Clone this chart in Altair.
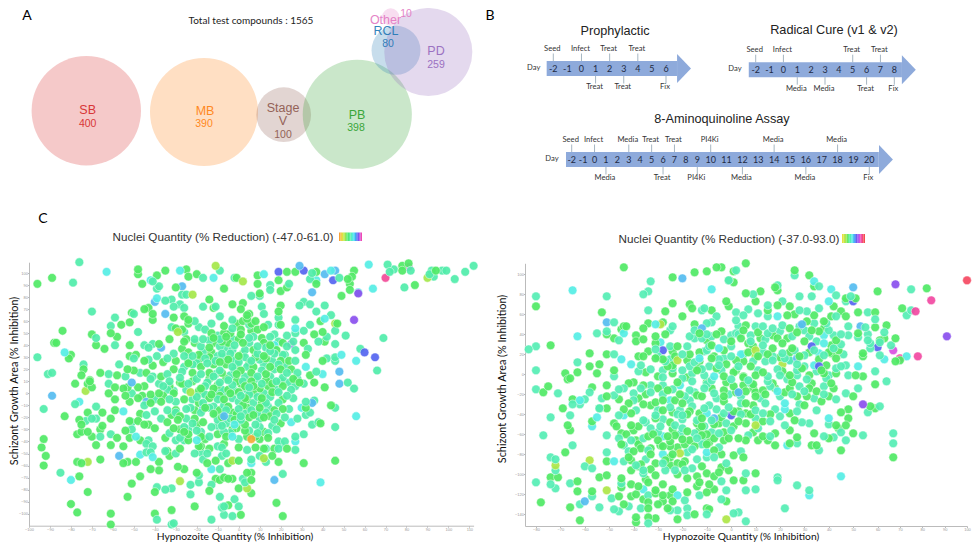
import altair as alt
import pandas as pd

# ---------- Panel A: compound counts ----------
venn_names = ["SB", "MB", "Stage V", "PB", "Other", "RCL", "PD"]
venn_counts = [400, 390, 100, 398, 10, 80, 259]
venn_colors = ["#d62728", "#ff7f0e", "#8c564b", "#2ca02c", "#e377c2", "#1f77b4", "#9467bd"]
venn_x = [86.3, 204, 283.7, 357.3, 390.7, 396, 428.3]
venn_y = [110.7, 112, 114.7, 114.3, 17, 50.3, 52]

venn_text = ["SB", "400", "MB", "390", "Stage", "V", "100", "PB", "398", "Other", "10", "RCL", "80", "PD", "259"]
venn_text_group = ["SB", "SB", "MB", "MB", "Stage V", "Stage V", "Stage V", "PB", "PB", "Other", "Other", "RCL", "RCL", "PD", "PD"]
venn_text_big = [1, 0, 1, 0, 1, 1, 0, 1, 0, 1, 0, 1, 0, 1, 0]
venn_text_x = [87.7, 87.7, 205, 204, 283, 283, 283, 357, 356, 385.5, 406, 386, 388, 436, 436]
venn_text_y = [110, 124, 111, 124, 107.5, 121, 134.5, 115, 127.5, 19.5, 14, 31, 43.5, 51, 64.5]

# ---------- Panel B: assay schedules ----------
proph_days = [-2, -1, 0, 1, 2, 3, 4, 5, 6]
proph_up = [(-2, "Seed"), (0, "Infect"), (2, "Treat"), (4, "Treat")]
proph_down = [(1, "Treat"), (3, "Treat"), (6, "Fix")]
cure_days = [-2, -1, 0, 1, 2, 3, 4, 5, 6, 7, 8]
cure_up = [(-2, "Seed"), (0, "Infect"), (5, "Treat"), (7, "Treat")]
cure_down = [(1, "Media"), (3, "Media"), (6, "Treat"), (8, "Fix")]
aq_days = list(range(-2, 21))
aq_up = [(-2, "Seed"), (0, "Infect"), (3, "Media"), (5, "Treat"), (7, "Treat"), (10, "PI4Ki"), (14, "Media"), (18, "Media")]
aq_down = [(1, "Media"), (6, "Treat"), (9, "PI4Ki"), (12, "Media"), (16, "Media"), (20, "Fix")]

# ---------- Panel C: left scatter (x, y) by nuclei reduction band ----------
L_orange = [(6,-38)]
L_lime = [(-11,106),(2,93),(-22,82),(-29,51),(46,58),(90,96),(-23,1),(-73,2),(-72,-57),(-28,-73),(12,-54),(-3,-56),(4,-79)]
L_pink = [(70,96)]
L_magenta = [(81,105)]
L_purple = [(57,83),(55,61),(25,41)]
L_blue = [(19,101),(31,102),(45,94),(60,34),(65,30)]
L_sky = [(29,106),(41,99),(46,102),(-27,89),(-40,76),(-37,38),(-35,66),(35,84),(48,18),(-89,-2),(-44,-7),(-57,-52),(-7,-19),(-17,-13),(35,-8),(48,8),(17,-72),(-51,9)]
L_aqua = [(-63,101),(-28,102),(-12,96),(-42,94),(12,99),(37,94),(44,102),(57,84),(64,87),(62,107),(-39,79),(-83,34),
 (41,62),(27,54),(17,40),(49,32),(56,27),(40,16),(32,22),(-76,-7),(-55,-15),(-49,-36),(-47,-51),(-41,-53),(-80,-72),(-13,-63),(39,-74),(56,-19),(-20,-39),(27,-40),(30,-12),(25,-24),(-3,-36),(-2,-26),(6,-58)]
L_green = [(-96,91),(-89,96),(-48,103),(-48,99),(-35,102),(-25,103),(-20,99),(-24,97),(-39,98),(-46,91),(-30,88),(-7,87),(-1,96),(9,98),(9,91),
 (23,101),(27,101),(19,94),(10,83),(20,85),(23,88),(37,101),(37,91),(54,97),(55,102),(52,95),(53,91),(53,86),(49,81),(78,106),(78,102),(81,108),(84,90),(94,102),
 (-84,52),(-88,42),(-87,42),(-80,32),(-81,29),(-74,20),(-75,15),(-71,11),(-70,49),(-68,40),(-64,37),(-61,50),(-58,47),(-56,57),(-52,59),(-51,67),(-52,40),(-52,31),(-49,32),
 (-45,70),(-43,71),(-41,66),(-41,61),(-38,41),(-31,63),(-26,64),(-24,61),(-27,53),(-24,58),(-30,54),(-33,45),(-25,45),(-26,43),(-13,50),(-13,46),(-7,56),(-7,50),(-14,78),(-12,71),
 (-3,74),(2,75),(1,70),(4,65),(5,66),(-1,58),(2,60),(4,62),(8,60),(6,58),(20,73),(19,68),(12,55),(20,57),(39,60),(36,49),(40,51),(47,58),(41,43),(32,32),(31,42),(34,15),(40,27),
 (-78,8),(-72,8),(-71,10),(-70,5),(-59,5),(-62,0),(-59,-5),(-54,-2),(-53,5),(-55,4),(-48,5),(-45,6),(-48,-4),(-42,-1),(-52,-7),(-72,-16),(-83,-19),(-65,-16),(-76,-22),(-75,-26),(-61,-21),(-59,-14),
 (-77,-34),(-75,-32),(-72,-32),(-70,-36),(-66,-30),(-65,-27),(-58,-37),(-54,-31),(-52,-37),(-52,-23),(-93,-38),(-94,-45),(-92,-52),(-93,-60),(-68,-43),(-61,-43),(-55,-44),(-47,-39),
 (-66,-55),(-77,-57),(-75,-58),(-55,-58),(-53,-57),(-49,-57),(-34,-48),(-33,-52),(-28,-46),(-76,-69),(-51,-75),(-47,-69),(-42,-63),(-38,-57),(-38,-64),(-29,-61),(-26,-63),(-20,-66),(-11,-71),(-9,-72),(-3,-71),(-7,-70),(-5,-71),
 (4,-66),(6,-66),(6,-72),(-72,-82),(-53,-86),(-40,-82),(-14,-81),(0,-79),(6,-83),(-80,-92),(-77,-99),(-61,-100),(-61,-109),(-40,-100),(-32,-97),(-21,-94),(-5,-93),(1,-101),(18,-91),(21,-102),
 (46,-56),(31,-58),(41,5),(44,-10),(39,-25),(36,9),(32,-12),(20,-25),(23,-46),(17,-46),(12,-46),(8,-45),(16,-52),(19,-57),(10,-38),(3,-31),(-3,-30),(-7,-42),(-14,-46),(-18,-44),(-19,-44),(-15,-58),(-11,-56),(-5,-58),(0,-56),(0,-45),
 (-17,-24),(-21,-21),(-20,-26),(-26,-32),(-18,-36),(-24,-34),(-31,-29),(-35,-37),(-24,-39),(-40,-29),(-43,-26),(-45,-26),(-48,-23),(-34,-24),(-47,-17),(-37,-7),(-30,-14),(-28,-19),(-29,-22),
 (-28,9),(-19,2),(-12,4),(-5,3),(1,8),(7,6),(14,6),(21,6),(29,9),(21,-5),(10,-12),(4,-5),(-7,-5),(-14,-4),(-19,-8),(-26,-5),(-31,0),(-38,0),(-9,-14),(-3,-16),(5,-20),(12,-20),(17,-14),(4,-12),(3,-26),(12,-32),(-1,-29),
 (-45,27),(-41,23),(-36,26),(-30,27),(-27,37),(-24,34),(-19,32),(-13,34),(-14,38),(-21,42),(-5,42),(0,31),(2,42),(7,36),(13,29),(18,36),(24,27),(7,22),(1,19),(-6,24),(-12,24),(-18,22),(-22,17),(-31,20),(-37,14),(-44,17),(-50,19),(-58,15),(-66,17),(-53,20),(-14,17),(-8,17),(-1,16),(6,17),(13,16),(20,20),(25,20),(1,49),(12,42),(21,42),(9,53),(1,53),(-6,47),(-12,42),
 (-22,10),(-18,4),(-14,12),(-10,7),(-6,12),(-1,10),(3,6),(6,10),(10,4),(13,11),(16,8),(20,10),(26,12),(-27,8),(-33,6),(-21,-14),(-16,-12),(-12,-17),(-8,-20),(-5,-11),(-1,-17),(2,-10),(7,-18),(11,-8),(15,-19),(21,-13),(-18,0),(-13,-1),(-9,-2),(-4,0),(0,1),(3,-4),(7,0),(11,-4),(16,1),(-24,25),(-19,28),(-14,30),(-9,26),(-5,28),(-1,24),(2,33),(5,25),(8,30),(12,31),(15,22),(20,27),(-12,46),(-8,43),(-4,50),(0,45),(6,52),(11,46),(15,40),(-16,-38),(-10,-34),(-6,-36),(-2,-22),(4,-36),(8,-36),(14,-37),(-28,-30),(-32,-18),(-42,-8),(-36,-2),(-46,-2)]
L_mint = [(-79,92),(-76,109),(-41,93),(-38,89),(-39,87),(-9,102),(-17,96),(-2,96),(15,90),(15,86),(24,91),(34,95),(35,100),(48,96),(71,107),(72,101),(74,103),(82,102),(79,88),(92,102),(91,99),(93,97),(97,102),(99,102),(103,95),(108,101),(112,106),
 (-70,68),(-96,30),(-74,24),(-91,16),(-89,17),(-68,46),(-59,40),(-61,56),(-59,63),(-50,66),(-48,51),(-50,29),(-45,40),(-43,38),(-41,41),(-35,77),(-32,78),(-27,82),(-25,82),(-31,72),(-28,74),(-26,71),(-21,60),(-17,72),(-11,72),(-9,64),(-13,58),(-19,55),(-16,53),(-32,55),(-26,51),(-21,45),(-17,45),
 (-3,61),(6,81),(10,81),(11,72),(12,66),(19,63),(14,57),(19,57),(29,73),(31,76),(34,74),(41,73),(37,68),(44,65),(34,57),(27,61),(31,52),(42,47),(46,52),(51,48),(69,46),(58,37),(66,19),(46,41),(46,30),(46,27),(42,29),(38,43),(33,37),(27,50),(23,48),(17,49),(27,36),(26,43),(22,32),(27,27),(28,17),(37,18),
 (-93,-13),(-78,-9),(-62,8),(-51,0),(-68,-11),(-73,-23),(-68,-21),(-70,-21),(-66,-36),(-61,-34),(-51,-30),(-51,-24),(-43,-39),(-44,-42),(-41,-44),(-44,-49),(-42,-49),(-35,-48),(-85,-66),(-39,-78),(-35,-80),(-32,-79),(-23,-84),(-9,-86),(-2,-88),(-23,-76),(-19,-74),(-19,-68),(-9,-63),(-13,-76),(2,-71),(3,-74),(21,-67),
 (-39,-105),(-32,-109),(-31,-108),(-13,-105),(-8,-95),(-7,-94),(0,-94),(-7,-101),(-3,-102),(52,9),(55,4),(46,-12),(46,-28),(38,-24),(36,-6),(31,8),(32,-7),(34,-16),(32,-18),(28,-21),(35,-26),(22,-20),(17,-22),(16,-27),(27,-36),(31,-34),(22,-40),(19,-40),(20,-42),(27,-47),(19,-46),(13,-46),(13,-57),(6,-55),(4,-47),
 (0,-38),(-7,-32),(-10,-27),(-13,-28),(-25,-21),(-22,-25),(-24,-30),(-20,-31),(-30,-39),(-28,-37),(-26,-39),(-21,-50),(-18,-49),(-17,-55),(-6,-50),(-8,-45),(-10,-44),(-37,-21),(-40,-15),(-33,-5),(-25,-13),
 (-31,2),(-25,3),(-15,9),(-9,9),(-3,7),(4,3),(12,0),(18,3),(24,9),(27,6),(23,-2),(13,-8),(19,-8),(7,-8),(0,-7),(-3,-4),(-10,-5),(-17,-8),(-22,-5),(-30,-7),(-34,3),(-12,-11),(-6,-14),(1,-19),(9,-16),(13,-16),(-10,-22),(8,-26),(9,-33),(-6,-25),(1,-22),
 (-43,28),(-39,31),(-34,29),(-31,33),(-26,31),(-22,31),(-17,34),(-10,31),(-18,39),(-9,39),(-3,36),(-3,28),(5,46),(10,28),(15,35),(21,32),(11,19),(4,22),(-3,22),(-9,19),(-15,25),(-22,24),(-27,18),(-34,16),(-41,14),(-47,17),(-54,14),(-62,16),(-57,24),(-18,16),(-11,16),(-4,15),(3,14),(9,14),(17,20),(23,17),(-3,45),(7,47),(15,47),(19,43),(23,39),(5,42),(5,57),(-3,54),(-9,45),
 (-24,8),(-20,12),(-16,6),(-12,14),(-8,3),(-5,11),(-2,19),(2,10),(5,5),(8,12),(11,8),(15,14),(18,10),(21,13),(25,3),(28,12),(-28,13),(-33,10),(-38,8),(-23,-12),(-18,-16),(-14,-12),(-11,-18),(-7,-10),(-4,-21),(0,-13),(3,-17),(6,-14),(10,-21),(14,-11),(18,-17),(24,-13),(-20,-3),(-16,-1),(-11,1),(-7,1),(-2,2),(1,-2),(5,-1),(9,-3),(15,-3),(19,1),(26,-4),(-26,22),(-24,27),(-20,25),(-16,29),(-11,27),(-7,30),(-4,33),(0,26),(3,30),(6,27),(9,33),(12,24),(16,27),(19,24),(22,23),(-14,44),(-10,48),(-6,38),(-2,40),(3,36),(9,39),(13,38),(17,33),(-8,33),(-18,-32),(-14,-36),(-8,-27),(-4,-33),(0,-24),(5,-31),(10,-28),(14,-33),(18,-30),(-30,-16),(-26,-28),(-33,-33),(-30,-50),(-15,-50),(-8,-52),(10,-52),(-44,-18),(-40,-5),(-45,-10),(-34,-14),(-36,6),(-42,12)]

# ---------- Panel C: right scatter (x, y) by nuclei reduction band ----------
R_red = [(100,94)]
R_pink = [(78,18),(77,63),(84,74),(70,16)]
R_magenta = [(67,24)]
R_purple = [(68,90),(91,38),(54,-30)]
R_blue = [(-28,24),(50,73),(60,27),(36,8),(33,28),(0,-41)]
R_sky = [(-20,96),(50,87),(-51,52),(-12,46),(53,48),(24,14),(27,16),(29,50),(3,-18),(-60,-127),(-7,-44)]
R_lime = [(-29,50),(-22,14),(10,18),(10,24),(21,10),(-58,-86),(-72,-91),(-21,-79),(-51,-116),(-2,-145),(10,-51)]
R_aqua = [(-65,84),(-8,85),(34,93),(41,85),(40,73),(-63,38),(-31,50),(-44,41),(-41,10),(-45,15),(-13,16),(-5,26),(4,20),(-29,32),(-7,-2),(34,9),(36,21),(38,31),(38,39),(52,8),(63,15),(73,18),(19,58),
 (-62,-26),(-55,-43),(-57,-52),(-44,-41),(-25,-26),(-10,-39),(-28,-62),(23,-71),(40,-44),(22,-29),(22,-35),(19,-17),(-21,-11),(-48,-87),(-28,-80),(-10,-78),(-36,-115),(-22,-121),(32,-121),(45,-102)]
R_green = [(-44,107),(-24,97),(-15,102),(-10,103),(-6,107),(-4,107),(1,103),(6,111),(-1,94),(1,92),(-80,68),(-53,62),(-51,40),(-48,36),(-45,45),(-44,48),(-43,48),(-36,46),(-34,51),(-28,52),(-27,63),(-24,71),(-20,58),(-17,70),(-16,66),(-8,64),(-15,50),
 (-2,73),(-1,68),(6,81),(12,83),(10,73),(18,87),(19,84),(26,104),(32,99),(34,88),(47,76),(51,76),(60,83),(82,86),(71,66),(68,13),(70,14),(52,62),(59,62),(59,47),(64,49),(63,36),(68,36),(61,34),(54,21),(54,18),(52,41),(45,63),(42,68),(41,58),(47,58),
 (-58,21),(-58,8),(-54,10),(-51,20),(-63,2),(-55,1),(-74,29),(-68,1),(-66,-4),(-48,4),(-39,39),(-36,35),(-39,33),(-31,38),(-27,40),(-31,31),(-34,23),(-36,18),(-31,16),(-38,18),(-24,9),(-24,23),(-22,28),(-17,20),(-13,13),(-10,34),(-8,29),(-4,43),(4,36),(7,31),(-7,18),(-2,10),(-13,6),(-24,1),(-3,-2),(2,4),(5,13),(8,8),(39,9),(51,-1),(54,-2),(43,1),(38,1),(32,-1),(24,-1),(10,-1),(5,-2),
 (9,28),(17,26),(41,21),(43,16),(41,29),(30,33),(25,26),(21,31),(19,36),(12,36),(6,49),(24,46),(31,53),(38,53),(36,43),(23,59),(26,60),(15,64),(19,69),(24,68),(34,59),
 (-77,-18),(-75,-12),(-67,-5),(-69,-34),(-65,-25),(-57,-13),(-51,-11),(-54,-34),(-51,-34),(-51,-22),(-42,-9),(-40,-8),(-57,-47),(-66,-56),(-67,-51),(-48,-49),(-41,-39),(-41,-51),(-38,-52),(-33,-31),(-31,-44),(-31,-28),(-28,-26),(-23,-26),(-20,-29),(-17,-37),(-13,-39),(-5,-49),(-14,-49),(-18,-57),(-25,-48),(-26,-62),(-39,-66),(-45,-59),
 (-33,-74),(-29,-71),(-25,-72),(-25,-67),(-20,-65),(-17,-66),(-9,-68),(-3,-66),(3,-64),(6,-66),(11,-66),(13,-47),(6,-49),(3,-47),(15,-66),(18,-59),(18,-71),(24,-56),(24,-69),(27,-63),(34,-59),(33,-71),(35,-71),(40,-64),(50,-59),(45,-76),(67,-83),(57,-32),(59,-34),(59,-10),(50,-22),(48,-35),(48,-44),(45,-38),(43,-51),(47,-51),(44,-54),(26,-46),(24,-39),(37,-27),(30,-31),(9,-31),(6,-29),(10,-22),(6,-39),(3,-37),(-3,-27),(-14,-21),(-3,-16),(1,-12),(5,-11),(9,-14),(13,-16),(24,-14),(32,-14),(42,-14),(-36,-11),(-38,-24),(-42,-29),
 (-68,-78),(-51,-87),(-41,-86),(-41,-96),(-31,-89),(-31,-101),(-25,-83),(-25,-91),(-22,-89),(-19,-87),(-12,-92),(-7,-76),(-4,-80),(-4,-93),(1,-81),(5,-83),(10,-99),(-14,-102),(-10,-99),(-7,-102),(1,-106),(5,-106),(-74,-103),(-71,-103),(-63,-107),(-63,-117),(-57,-117),(-54,-103),(-51,-101),(-45,-104),(-45,-113),(-38,-112),(-34,-108),(-31,-116),(-31,-119),(-28,-121),(-25,-121),(-24,-127),(-28,-127),(-10,-118),(-7,-115),(-2,-127),(-78,-128),(-66,-133),(-46,-122),(-41,-122),(-44,-130),(-34,-128),(-34,-134),(-15,-140),(-10,-134),(-9,-135),(-62,-146),(-39,-143),(-39,-148),(-34,-143),(-31,-144),(-22,-145),(-40,-56),(-23,-61),(-12,-61),(-1,-64),(-37,-74),(-40,-77),
 (-35,2),(-30,-2),(-26,8),(-22,-8),(-18,-3),(-14,4),(-10,-8),(-6,6),(-2,-8),(1,2),(5,-3),(9,-10),(13,2),(17,-9),(21,3),(25,-8),(29,6),(33,-9),(37,4),(41,-9),(-28,15),(-23,18),(-18,14),(-13,22),(-8,16),(-3,24),(2,14),(7,22),(11,18),(15,20),(20,17),(24,22),(28,18),(32,22),(36,15),(40,22),(44,24),(-13,41),(-6,40),(0,33),(5,44),(11,42),(17,39),(23,36),(27,42),(33,44),(38,46),(43,34),(-35,-20),(-30,-14),(-26,-16),(-21,-20),(-12,-22),(-8,-14),(-3,-22),(2,-18),(6,-17),(10,-18),(14,-20),(18,-14),(22,-18),(27,-22),(31,-22),(35,-17),(40,-22),(-28,-36),(-24,-38),(-18,-40),(-12,-44),(-4,-43),(1,-37),(8,-40),(16,-40),(-32,-60),(-24,-55),(-19,-70),(-15,-72),(-10,-60),(-7,-50),(-33,-80),(-37,-90),(-20,-90),
 (-43,-60),(-30,-66),(-28,-72),(-22,-73),(-24,-80),(-13,-56),(-10,-70),(-7,-64),(-3,-58),(1,-52),(-45,-70),(-42,-83),(-38,-92),(-33,-95),(-27,-86),(-22,-100),(-18,-104),(-13,-108),(-9,-110),(-5,-98),(-1,-96),(-35,-105),(-28,-110),(-24,-115),(-18,-118),(-14,-112),(-41,-110),(-39,-120),(-36,-125),(-30,-130),(-26,-134),(-38,-70),(-34,-62),(-12,-52),(9,-58),(13,-62),(-47,-52),(-44,-35),(-36,-30),(-46,-25)]
R_mint = [(-33,93),(-34,83),(-36,80),(-80,78),(-51,78),(-48,52),(-55,41),(-51,43),(-46,34),(-34,64),(-12,64),(-11,66),(-6,58),(-8,52),(-10,51),(-25,44),(-24,48),(2,62),(9,80),(7,65),(19,89),(26,99),(36,88),(43,79),(28,78),(33,78),(47,73),(49,78),(2,104),(-1,94),(75,85),(73,59),(75,64),
 (56,62),(59,55),(55,47),(63,42),(61,32),(66,29),(61,19),(59,3),(57,26),(57,31),(56,40),(56,34),(52,37),(48,39),(48,48),(45,30),(43,58),(39,51),
 (-37,9),(-48,20),(-63,12),(-48,-2),(-80,4),(-83,25),(-80,28),(-31,25),(-27,13),(-28,4),(-25,28),(-18,28),(-17,38),(-15,36),(-12,36),(-10,40),(0,39),(2,41),(0,18),(-3,16),(-9,28),(-11,23),(-5,9),(-9,8),(-17,8),(-20,4),(-16,1),(-11,-1),(14,13),(17,14),(24,14),(27,4),(30,8),(45,8),(47,9),(48,-1),(40,-1),(27,-1),(20,-1),(15,-2),
 (13,29),(21,21),(32,38),(15,41),(8,39),(10,48),(3,48),(13,48),(17,46),(21,49),(28,48),(34,51),(42,39),(21,73),(28,64),(31,63),(36,66),(15,58),(11,61),(5,59),(2,54),(15,69),
 (-80,-15),(-71,-19),(-65,-30),(-62,-30),(-60,-25),(-58,-18),(-54,-34),(-53,-24),(-48,-21),(-46,-15),(-44,-14),(-66,-41),(-74,-43),(-77,-61),(-65,-71),(-46,-41),(-36,-46),(-31,-41),(-20,-41),(-20,-45),(-2,-49),(-8,-58),(-11,-52),(-20,-54),(-23,-51),(-33,-54),(-36,-64),(-41,-66),(-46,-64),(-44,-71),(-51,-61),(-14,-64),(-11,-67),(0,-56),(7,-61),(11,-54),(16,-47),(16,-62),(22,-51),(27,-69),(36,-76),(38,-62),(42,-63),(45,-58),(47,-66),(54,-61),
 (67,-59),(67,-69),(61,-32),(56,-38),(64,-7),(40,-50),(29,-48),(32,-49),(27,-37),(35,-36),(18,-35),(14,-29),(4,-29),(10,-36),(13,-39),(-3,-39),(-9,-31),(-7,-19),(-11,-14),(-17,-16),(-17,-26),(28,-12),(38,-12),(47,-19),(52,-14),(-28,-11),(-33,-11),(-37,-14),(-40,-19),(-39,-36),(-40,-26),
 (-74,-83),(-72,-85),(-60,-92),(-57,-94),(-72,-96),(-51,-78),(-44,-87),(-39,-91),(-36,-96),(-36,-99),(-34,-76),(-28,-89),(-16,-94),(-10,-83),(-7,-83),(-2,-89),(4,-77),(6,-99),(-27,-96),(-23,-96),(-19,-96),(-4,-107),(6,-116),(10,-115),(19,-103),(19,-106),(27,-111),(32,-116),(22,-134),
 (-80,-108),(-74,-110),(-72,-114),(-66,-109),(-57,-122),(-45,-109),(-34,-121),(-13,-121),(-4,-125),(-2,-116),(-19,-126),(-62,-130),(-54,-133),(-49,-124),(-42,-132),(-48,-135),(-46,-137),(-37,-134),(-25,-136),(-22,-136),(-18,-134),(-18,-141),(-10,-140),(1,-139),(3,-138),(6,-147),(-34,-149),(-29,-52),(-15,-59),(-5,-59),(-42,-77),
 (-38,3),(-33,5),(-28,-3),(-24,6),(-20,-4),(-16,-7),(-12,5),(-8,-6),(-4,4),(0,-5),(3,8),(7,-6),(11,4),(15,-7),(19,5),(23,-5),(27,10),(31,-5),(35,3),(39,-4),(43,6),(-30,18),(-25,15),(-20,20),(-15,12),(-10,24),(-5,15),(0,28),(5,20),(9,13),(13,22),(17,18),(22,16),(26,24),(30,19),(34,24),(38,19),(42,26),(46,20),(-15,44),(-8,38),(-3,35),(3,40),(8,33),(14,35),(20,43),(25,38),(30,44),(35,33),(40,44),(45,40),(-33,-18),(-28,-20),(-24,-15),(-19,-22),(-15,-18),(-10,-10),(-6,-24),(-1,-20),(4,-22),(8,-9),(12,-24),(16,-12),(20,-22),(25,-20),(30,-17),(34,-24),(38,-20),(43,-25),(-30,-36),(-25,-33),(-21,-36),(-16,-32),(-11,-34),(-6,-35),(-1,-33),(-35,-48),(-28,-45),(-22,-40),(-14,-46),(-8,-46),(4,-40),(10,-44),(20,-42),(28,-30),(-30,-58),(-21,-60),(-16,-75),(-12,-70),(-5,-73),(-35,-85),(-18,-78),(-14,-85)]

left_bands = {-45: L_orange, -22: L_lime, 60: L_pink, 55: L_magenta, 47: L_purple, 38: L_blue, 28: L_sky, 18: L_aqua, -10: L_green, 6: L_mint}
right_bands = {85: R_red, 72: R_pink, 64: R_magenta, 52: R_purple, 38: R_blue, 28: R_sky, -22: R_lime, 18: R_aqua, -5: R_green, 8: R_mint}

left_domain = [-47, -35, -22, -10, 0, 8, 18, 28, 38, 47, 55, 61]
left_colors = ["#f5a03a", "#e8e040", "#a5e84a", "#50ea66", "#4fe88a", "#55eeb5", "#55eee6", "#55bcf0", "#5566f0", "#8a50ee", "#e050e0", "#f0508c"]
right_domain = [-37, -20, -5, 8, 18, 28, 38, 52, 65, 75, 93]
right_colors = ["#e8e040", "#a5e84a", "#50ea66", "#55eeb5", "#55eee6", "#55bcf0", "#5566f0", "#8a50ee", "#e050e0", "#f0508c", "#f0503c"]

left_legend = [-47, -40, -33, -26, -19, -12, -5, 2, 9, 16, 23, 30, 37, 44, 51, 58]
right_legend = [-37, -28, -19, -10, -1, 8, 17, 26, 35, 44, 53, 62, 71, 80, 89]

W, H = 964, 534
PX = alt.Scale(domain=[8, 8 + W], range=[0, W])
PY = alt.Scale(domain=[8, 8 + H], range=[0, H])


def page_x(field="x"):
    return alt.X(f"{field}:Q", scale=PX, axis=None)


def page_y(field="y"):
    return alt.Y(f"{field}:Q", scale=PY, axis=None)


def page_text(rows, **kw):
    df = pd.DataFrame(rows, columns=["x", "y", "t"])
    return alt.Chart(df).mark_text(baseline="middle", **kw).encode(x=page_x(), y=page_y(), text="t:N")


layers = []

# --- Panel letters and headings
layers.append(page_text([(27, 16, "A"), (490, 16, "B"), (43, 219, "C")], font="Lato", fontSize=14, color="#000", align="center"))
layers.append(page_text([(251, 20.5, "Total test compounds : 1565")], font="Lato", fontSize=10, color="#222", align="center"))

# --- Panel A bubbles
venn_df = pd.DataFrame({"name": venn_names, "count": venn_counts, "x": venn_x, "y": venn_y})
venn_scale = alt.Scale(domain=venn_names, range=venn_colors)
layers.append(alt.Chart(venn_df).mark_circle(opacity=0.25).encode(
    x=page_x(), y=page_y(),
    size=alt.Size("count:Q", scale=alt.Scale(domain=[0, 400], range=[0, 11968]), legend=None),
    color=alt.Color("name:N", scale=venn_scale, legend=None)))
text_df = pd.DataFrame({"t": venn_text, "name": venn_text_group, "big": venn_text_big, "x": venn_text_x, "y": venn_text_y})
for big, fs in ((1, 12.5), (0, 10.5)):
    layers.append(alt.Chart(text_df[text_df.big == big]).mark_text(font="Liberation Sans", fontSize=fs, baseline="middle", align="center", opacity=0.9).encode(
        x=page_x(), y=page_y(), text="t:N",
        color=alt.Color("name:N", scale=venn_scale, legend=None)))


# --- Panel B arrows
def arrow(days, up, down, day_scale, cy, start, end, head, up_y, dn_y):
    layers_ = []
    xs = alt.Scale(domain=day_scale[0], range=day_scale[1])
    X = lambda f="d": alt.X(f"{f}:Q", scale=xs, axis=None)
    layers_.append(alt.Chart(pd.DataFrame({"d": [start], "e": [end], "y": [cy - 7.5], "y2": [cy + 7.5]})).mark_rect(color="#8eaadb").encode(
        x=X(), x2="e:Q", y=page_y(), y2="y2:Q"))
    layers_.append(alt.Chart(pd.DataFrame({"d": [head], "y": [cy]})).mark_point(
        shape="M-0.48,-1L0.48,0L-0.48,1Z", filled=True, color="#8eaadb", opacity=1, size=841).encode(x=X(), y=page_y()))
    layers_.append(alt.Chart(pd.DataFrame({"d": days, "y": [cy] * len(days), "t": [str(d) for d in days]})).mark_text(
        font="Lato", fontSize=9, color="#1f2a44", baseline="middle", align="center").encode(x=X(), y=page_y(), text="t:N"))
    tick = []
    lab = []
    for d, t in up:
        tick.append((d, cy - 15, cy - 7.5))
        lab.append((d, up_y, t))
    for d, t in down:
        tick.append((d, cy + 7.5, cy + 15))
        lab.append((d, dn_y, t))
    layers_.append(alt.Chart(pd.DataFrame(tick, columns=["d", "y", "y2"])).mark_rule(color="#7f97a8", strokeWidth=0.7).encode(
        x=X(), y=page_y(), y2="y2:Q"))
    layers_.append(alt.Chart(pd.DataFrame(lab, columns=["d", "y", "t"])).mark_text(
        font="Lato", fontSize=7.6, color="#333", baseline="middle", align="center", dx=-1).encode(x=X(), y=page_y(), text="t:N"))
    return layers_


layers += arrow(proph_days, proph_up, proph_down, ([-2, 6], [553.3 - 8, 666 - 8]), 68.5, -2.47, 6.78, 7.28, 48.7, 87.3)
layers += arrow(cure_days, cure_up, cure_down, ([-2, 8], [755.7 - 8, 894.3 - 8]), 69.7, -2.5, 8.55, 9.05, 49.7, 88.7)
layers += arrow(aq_days, aq_up, aq_down, ([-2, 9, 10, 20], [571.7 - 8, 697.3 - 8, 710.7 - 8, 869.3 - 8]), 159.5, -2.5, 20.6, 21.05, 139.7, 178)
layers.append(page_text([(533.7, 68, "Day"), (735, 69, "Day"), (552, 159, "Day")], font="Lato", fontSize=7.6, color="#333", align="center"))
layers.append(page_text([(615, 30.7, "Prophylactic"), (834, 30, "Radical Cure (v1 & v2)"), (722, 119, "8-Aminoquinoline Assay")],
                        font="Liberation Sans", fontSize=12.7, color="#222", align="center"))


# --- Panel C scatters
def scatter(bands, xdom, xrng, ydom, yrng, xvals, yvals, cdom, ccols):
    rows = [(x, y, v) for v, pts in bands.items() for x, y in pts]
    rows.sort(key=lambda r: (r[0] * 13 + r[1] * 7) % 17)
    df = pd.DataFrame(rows, columns=["x", "y", "v"])
    ax = dict(grid=False, title=None, labelFontSize=4, labelColor="#999", domainColor="#bbb", tickColor="#bbb", tickSize=1.5, labelPadding=0, labelFlush=False)
    return alt.Chart(df).mark_circle(size=76, opacity=0.92, stroke="#fff", strokeWidth=0.5).encode(
        x=alt.X("x:Q", scale=alt.Scale(domain=xdom, range=[r - 8 for r in xrng], nice=False, zero=False),
                axis=alt.Axis(orient="bottom", values=xvals, offset=-(8 + H - yrng[0]), **ax)),
        y=alt.Y("y:Q", scale=alt.Scale(domain=ydom, range=[r - 8 for r in yrng], nice=False, zero=False),
                axis=alt.Axis(orient="left", values=yvals, offset=-(xrng[0] - 8), **ax)),
        color=alt.Color("v:Q", scale=alt.Scale(domain=cdom, range=ccols), legend=None))


layers.append(scatter(left_bands, [-100, 112], [29, 473.6], [-110, 109], [525.7, 262.2],
                      list(range(-100, 111, 10)), list(range(-100, 101, 10)), left_domain, left_colors))
layers.append(scatter(right_bands, [-84.5, 60, 100], [525, 877.6, 967], [-151.7, 111], [526, 263.3],
                      list(range(-80, 101, 10)), list(range(-140, 101, 20)), right_domain, right_colors))


def legend(vals, step, xr, y0, y1, cdom, ccols):
    df = pd.DataFrame({"v": vals, "e": [v + step for v in vals], "y": [y0] * len(vals), "y2": [y1] * len(vals)})
    return alt.Chart(df).mark_rect().encode(
        x=alt.X("v:Q", scale=alt.Scale(domain=[vals[0], vals[-1] + step], range=[r - 8 for r in xr], nice=False, zero=False), axis=None),
        x2="e:Q", y=page_y(), y2="y2:Q",
        color=alt.Color("v:Q", scale=alt.Scale(domain=cdom, range=ccols), legend=None))


layers.append(legend(left_legend, 7, [339, 362], 232.5, 241, left_domain, left_colors))
layers.append(legend(right_legend, 9, [842, 865], 234, 243, right_domain, right_colors))

layers.append(page_text([(223, 237, "Nuclei Quantity (% Reduction) (-47.0-61.0)"), (729, 238.5, "Nuclei Quantity (% Reduction) (-37.0-93.0)")],
                        font="Liberation Sans", fontSize=11.7, color="#333", align="center"))
layers.append(page_text([(235, 537, "Hypnozoite Quantity (% Inhibition)"), (741, 537, "Hypnozoite Quantity (% Inhibition)")],
                        font="Lato", fontSize=10.3, color="#111", align="center"))
layers.append(page_text([(14.5, 381, "Schizont Growth Area (% Inhibition)"), (503, 379, "Schizont Growth Area (% Inhibition)")],
                        font="Lato", fontSize=10.8, color="#111", align="center", angle=270))

chart = alt.layer(*layers).resolve_scale(x="independent", y="independent", color="independent", size="independent").properties(
    width=W, height=H, padding=0, autosize=alt.AutoSizeParams(type="none"), background="#ffffff"
).configure_view(stroke=None)

chart.save("out.html", embed_options={"renderer": "svg", "actions": False})
